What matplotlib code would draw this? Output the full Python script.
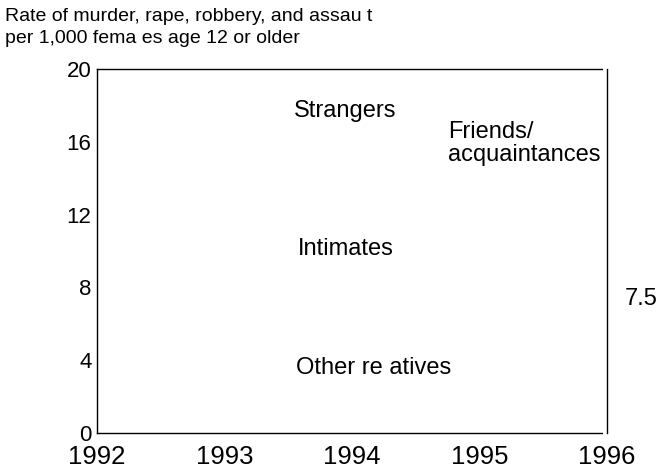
import matplotlib
matplotlib.use("Agg")
import matplotlib.pyplot as plt

plt.rcParams["font.family"] = ["Liberation Sans", "DejaVu Sans"]

years = [1992, 1993, 1994, 1995, 1996]
y_ticks = [0, 4, 8, 12, 16, 20]

# series labels as they appear in the chart
label_text = ["Strangers", "Intimates", "Other re atives", "Friends/\nacquaintances"]
label_x = [1993.95, 1993.95, 1993.56, 1994.75]
label_y = [17.7, 10.1, 3.55, 15.9]
label_ha = ["center", "center", "left", "left"]
end_value = "7.5"
end_value_y = 7.35

title = "Rate of murder, rape, robbery, and assau t\nper 1,000 fema es age 12 or older"

fig = plt.figure(figsize=(6.63, 4.68), dpi=100)
ax = fig.add_axes([97 / 663, 35 / 468, 510 / 663, 364 / 468])
ax.set_xlim(years[0], years[-1])
ax.set_ylim(y_ticks[0], y_ticks[-1])
ax.set_xticks(years)
ax.set_yticks(y_ticks)
ax.tick_params(axis="x", direction="inout", length=6, width=3, color="white",
               labelsize=18.5, pad=6)
ax.tick_params(axis="y", length=0, labelsize=16, pad=4)
for s in ax.spines.values():
    s.set_linewidth(1.0)
    s.set_color("black")
ax.spines["right"].set_visible(False)

# right axis: white ticks cut small gaps in the right frame line
ax2 = ax.twinx()
ax2.set_ylim(y_ticks[0], y_ticks[-1])
ax2.set_yticks(y_ticks)
ax2.set_yticklabels([])
ax2.tick_params(axis="y", direction="inout", length=6, width=3, color="white")
for side in ["left", "top", "bottom"]:
    ax2.spines[side].set_visible(False)
ax2.spines["right"].set_linewidth(1.0)

for t, x, y, ha in zip(label_text, label_x, label_y, label_ha):
    ax.text(x, y, t, ha=ha, va="center", fontsize=17, linespacing=1.05)
ax.text(years[-1] + 0.14, end_value_y, end_value, ha="left", va="center",
        fontsize=17, clip_on=False)

fig.text(5 / 663, 1 - 8 / 468, title, ha="left", va="top", fontsize=14,
         linespacing=1.4)

fig.savefig("out.png", dpi=100)
